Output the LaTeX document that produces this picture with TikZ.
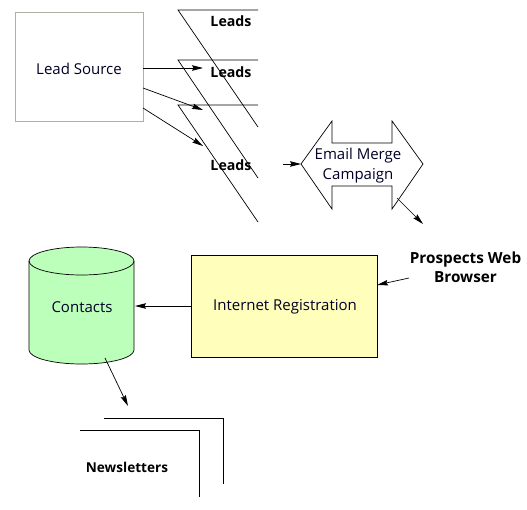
\documentclass[tikz,border=0pt]{standalone}
\usepackage{fontspec}
\setmainfont{Open Sans}
\usetikzlibrary{arrows.meta}
\definecolor{boxedge}{HTML}{B0B0A0}
\definecolor{cylfill}{HTML}{BBFFBB}
\definecolor{boxfill}{HTML}{FFFFBB}
\tikzset{
  conn/.style={draw=black,line width=0.7pt,-{Stealth[length=11pt,width=5.5pt,inset=1.5pt]}},
  shapeline/.style={draw=black,line width=0.7pt},
  txt/.style={inner sep=0pt,align=center,font=\fontsize{15pt}{19.5pt}\selectfont,text=black!85!blue},
  boldtxt/.style={inner sep=0pt,align=center,font=\fontsize{14.2pt}{19pt}\selectfont\bfseries,text=black},
}
\begin{document}
\begin{tikzpicture}[x=1pt,y=-1pt]
\useasboundingbox (0,0) rectangle (527,509);
% Lead source
\node[draw=boxedge,fill=white,line width=0.7pt,minimum width=128pt,minimum height=109pt,inner sep=0pt,anchor=north west] (src) at (15,12) {};
\node[txt] (srct) at (79,69) {Lead Source};
% Leads shapes
\coordinate (l1a) at (258,10); \coordinate (l1b) at (178,10); \coordinate (l1c) at (258,127);
\coordinate (l2a) at (258,60); \coordinate (l2b) at (178,60); \coordinate (l2c) at (258,178);
\coordinate (l3a) at (258,105); \coordinate (l3b) at (178,105); \coordinate (l3c) at (258,222);
\draw[shapeline] (l1a) -- (l1b) -- (l1c);
\draw[shapeline] (l2a) -- (l2b) -- (l2c);
\draw[shapeline] (l3a) -- (l3b) -- (l3c);
\node[boldtxt] (t1) at (231,21.5) {Leads};
\node[boldtxt] (t2) at (231,72.5) {Leads};
\node[boldtxt] (t3) at (231,165.5) {Leads};
% Source arrows
\coordinate (s1) at (143,68); \coordinate (e1) at (203,68);
\coordinate (s2) at (143,88); \coordinate (e2) at (203,110);
\coordinate (s3) at (143,108); \coordinate (e3) at (203,146);
\draw[conn] (s1) -- (e1);
\draw[conn] (s2) -- (e2);
\draw[conn] (s3) -- (e3);
% Email merge
\coordinate (mL) at (301,164);
\draw[shapeline] (mL) -- (332,121) -- (332,143) -- (392,143) -- (392,121) -- (423,164) -- (392,209) -- (392,186) -- (332,186) -- (332,209) -- cycle;
\node[txt] (mail) at (358,165.8) {Email Merge\\Campaign};
\coordinate (m0) at (283,164);
\draw[conn] (m0) -- (mL);
\coordinate (m1) at (397,198); \coordinate (m2) at (423,224);
\draw[conn] (m1) -- (m2);
% Prospects
\node[boldtxt,font=\fontsize{15.3pt}{19pt}\selectfont\bfseries] (pros) at (465.5,267) {Prospects Web\\Browser};
% Internet Registration
\node[draw=black,fill=boxfill,line width=0.7pt,minimum width=186pt,minimum height=102pt,inner sep=0pt,anchor=north west] (reg) at (191,255) {};
\node[txt] (regt) at (285,307) {Internet Registration};
\coordinate (p1) at (409,278); \coordinate (p2) at (377,285);
\draw[conn] (p1) -- (p2);
% Cylinder
\draw[shapeline,fill=cylfill] (29,261) -- (29,350) arc[start angle=180,end angle=360,x radius=52.5,y radius=-14] -- (134,261) arc[start angle=0,end angle=180,x radius=52.5,y radius=-14] -- cycle;
\draw[shapeline] (29,261) arc[start angle=180,end angle=360,x radius=52.5,y radius=-14];
\node[txt] (cont) at (82,307) {Contacts};
\coordinate (c0) at (135,306); \coordinate (r0) at (191,306);
\draw[conn] (r0) -- (c0);
\coordinate (c1) at (105,358); \coordinate (c2) at (128,406);
\draw[conn] (c1) -- (c2);
% Newsletters
\coordinate (n1) at (104,418); \coordinate (n2) at (223,418); \coordinate (n3) at (223,484);
\coordinate (n4) at (80,430); \coordinate (n5) at (199,430); \coordinate (n6) at (199,497);
\draw[shapeline] (n1) -- (n2) -- (n3);
\draw[shapeline] (n4) -- (n5) -- (n6);
\node[boldtxt,font=\fontsize{13.6pt}{19pt}\selectfont\bfseries] (news) at (127,467.5) {Newsletters};
\end{tikzpicture}
\end{document}
